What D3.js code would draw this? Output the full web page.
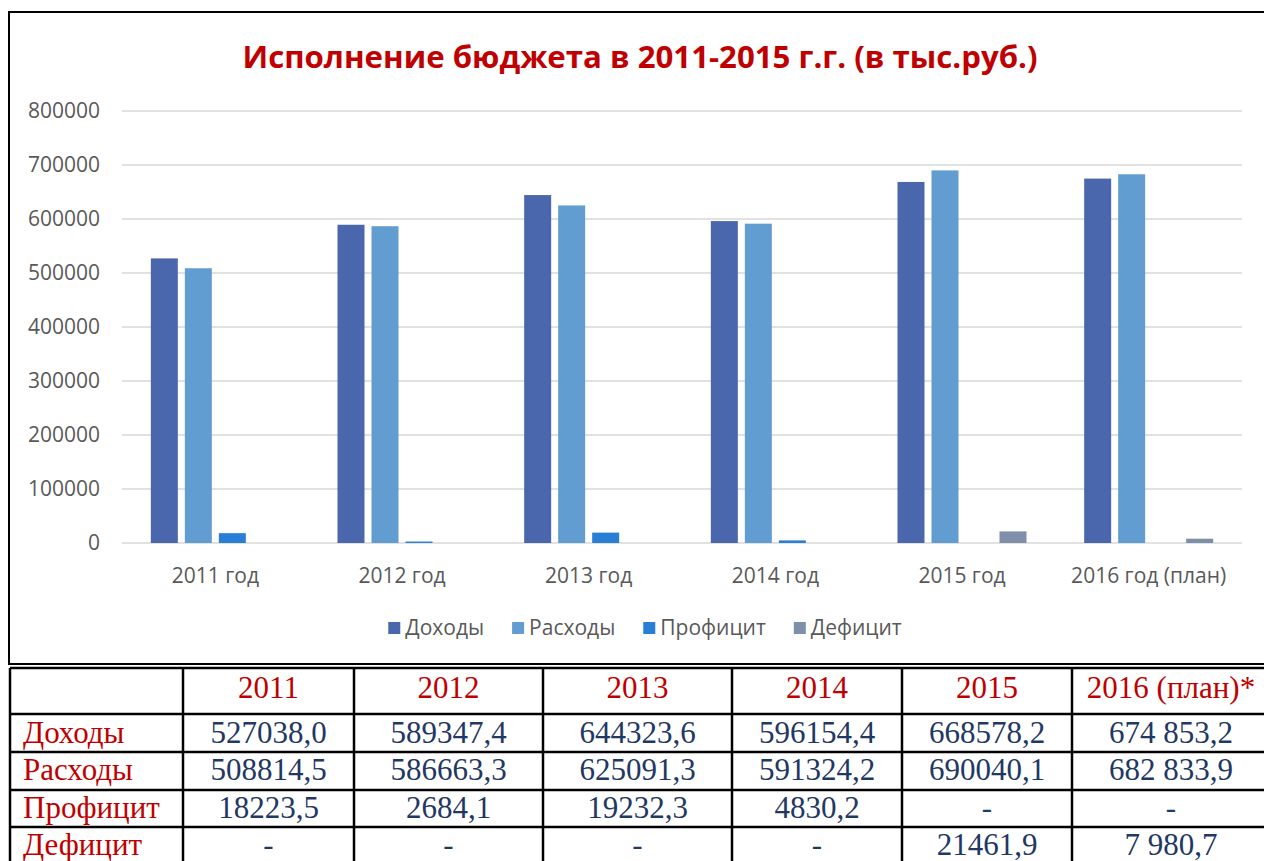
<!DOCTYPE html>
<html><head><meta charset="utf-8">
<script src="https://cdnjs.cloudflare.com/ajax/libs/d3/7.8.5/d3.min.js"></script>
<style>
html,body{margin:0;padding:0;background:#fff;overflow:hidden;}
svg{display:block;}
</style></head>
<body>
<svg id="c" width="1264" height="861"></svg>
<script>
// ---- DATA ----
const title = "Исполнение бюджета в 2011-2015 г.г. (в тыс.руб.)";
const categories = ["2011 год","2012 год","2013 год","2014 год","2015 год","2016 год (план)"];
const seriesNames = ["Доходы","Расходы","Профицит","Дефицит"];
const dokhody  = [527038.0, 589347.4, 644323.6, 596154.4, 668578.2, 674853.2];
const raskhody = [508814.5, 586663.3, 625091.3, 591324.2, 690040.1, 682833.9];
const proficit = [18223.5, 2684.1, 19232.3, 4830.2, null, null];
const deficit  = [null, null, null, null, 21461.9, 7980.7];
const yTicks = [0,100000,200000,300000,400000,500000,600000,700000,800000];
const tableHeader = ["2011","2012","2013","2014","2015","2016 (план)*"];
const tableDokhody  = ["527038,0","589347,4","644323,6","596154,4","668578,2","674 853,2"];
const tableRaskhody = ["508814,5","586663,3","625091,3","591324,2","690040,1","682 833,9"];
const tableProficit = ["18223,5","2684,1","19232,3","4830,2","-","-"];
const tableDeficit  = ["-","-","-","-","21461,9","7 980,7"];

// ---- STYLE / LAYOUT ----
const colors = ["#4A66AC","#629DD1","#297FD5","#7F8FA9"];
const sans = "'Open Sans', sans-serif";
const serif = "'Liberation Serif', 'Times New Roman', serif";
const red = "#C00000", navy = "#1F3864", grey = "#595959";

const svg = d3.select("#c");

// chart frame
svg.append("rect").attr("x",9).attr("y",12).attr("width",1270).attr("height",652)
  .attr("fill","none").attr("stroke","#000").attr("stroke-width",2);

svg.append("text").attr("x",640).attr("y",68).attr("text-anchor","middle")
  .attr("font-family",sans).attr("font-weight",700).attr("font-size",31.2)
  .attr("fill",red).text(title);

const x0 = d3.scaleBand().domain(categories).range([122,1242]);
const x1 = d3.scaleBand().domain(seriesNames).range([0,x0.bandwidth()])
  .paddingInner(0.206).paddingOuter(0.848);
const y = d3.scaleLinear().domain([0,800000]).range([543,111]);

// grid
svg.append("g").selectAll("line").data(yTicks).join("line")
  .attr("x1",122).attr("x2",1242).attr("y1",d=>y(d)).attr("y2",d=>y(d))
  .attr("stroke","#D9D9D9").attr("stroke-width",1.5);

// y axis labels via d3 axis
const yAxis = svg.append("g").attr("transform","translate(112,0)")
  .call(d3.axisLeft(y).tickValues(yTicks).tickFormat(d3.format("d")).tickSize(0).tickPadding(12));
yAxis.select(".domain").remove();
yAxis.selectAll("text").attr("font-family",sans).attr("font-size",21).attr("fill",grey);

// x axis labels
const xAxis = svg.append("g").attr("transform","translate(0,543)")
  .call(d3.axisBottom(x0).tickSize(0).tickPadding(25));
xAxis.select(".domain").remove();
xAxis.selectAll("text").attr("font-family",sans).attr("font-size",21).attr("fill",grey);

// bars
const seriesData = [dokhody, raskhody, proficit, deficit];
seriesData.forEach((vals,si)=>{
  svg.append("g").selectAll("rect")
    .data(vals.map((v,i)=>({c:categories[i],v})).filter(d=>d.v!=null))
    .join("rect")
    .attr("x",d=>x0(d.c)+x1(seriesNames[si]))
    .attr("width",x1.bandwidth())
    .attr("y",d=>y(d.v))
    .attr("height",d=>y(0)-y(d.v))
    .attr("fill",colors[si]);
});

// legend
const lg = svg.append("g");
let lx = 0;
seriesNames.forEach((n,i)=>{
  const g = lg.append("g").attr("transform",`translate(${lx},0)`);
  g.append("rect").attr("x",0).attr("y",-6).attr("width",12).attr("height",12).attr("fill",colors[i]);
  const t = g.append("text").attr("x",17).attr("y",0).attr("dy","0.35em")
    .attr("font-family",sans).attr("font-size",21).attr("fill",grey).text(n);
  lx += 17 + t.node().getComputedTextLength() + 28;
});
lx -= 28;
lg.attr("transform",`translate(${645 - lx/2},628)`);

// table
const colX = [10,183,354,543,732,902,1072,1270];
const rowY = [668,714,752,790,827,865];
const baseOff = [16,9,10,9,10];
const tg = svg.append("g");
const rows = [
  {label:"", cells:tableHeader, color:red},
  {label:seriesNames[0], cells:tableDokhody, color:navy},
  {label:seriesNames[1], cells:tableRaskhody, color:navy},
  {label:seriesNames[2], cells:tableProficit, color:navy},
  {label:seriesNames[3], cells:tableDeficit, color:navy}
];
rows.forEach((r,ri)=>{
  const base = rowY[ri+1] - baseOff[ri];
  tg.append("text").attr("x",23).attr("y",base).attr("font-family",serif)
    .attr("font-size",31).attr("fill",red).text(r.label);
  r.cells.forEach((s,ci)=>{
    tg.append("text").attr("x",(colX[ci+1]+colX[ci+2])/2).attr("y",base)
      .attr("text-anchor","middle").attr("font-family",serif).attr("font-size",31)
      .attr("fill",r.color).text(s);
  });
});
rowY.forEach(yy=>{
  tg.append("line").attr("x1",colX[0]).attr("x2",colX[colX.length-1]).attr("y1",yy).attr("y2",yy)
    .attr("stroke","#000").attr("stroke-width",2.5);
});
colX.forEach(xx=>{
  tg.append("line").attr("x1",xx).attr("x2",xx).attr("y1",rowY[0]).attr("y2",rowY[rowY.length-1])
    .attr("stroke","#000").attr("stroke-width",2.5);
});
</script>
</body></html>
